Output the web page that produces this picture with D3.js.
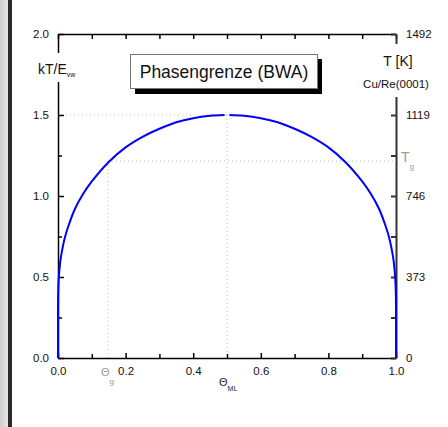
<!DOCTYPE html>
<html>
<head>
<meta charset="utf-8">
<script src="https://cdn.jsdelivr.net/npm/d3@7"></script>
<style>
  body { margin: 0; background: #fff; }
  svg { display: block; font-family: "Liberation Sans", Arial, sans-serif; }
</style>
</head>
<body>
<svg id="chart" width="448" height="427"></svg>
<script>
// ---- data ----
// phase boundary, left branch (coverage, kT/E_vw)
const thetaLeft = [0, 0, 0, 0.0005, 0.0025, 0.007, 0.01, 0.02, 0.03, 0.05, 0.075, 0.1, 0.15, 0.2, 0.25, 0.3, 0.35, 0.4, 0.45, 0.493];
const kTLeft    = [0, 0.2, 0.3, 0.4, 0.5, 0.6, 0.64, 0.74, 0.81, 0.92, 1.015, 1.09, 1.21, 1.30, 1.365, 1.415, 1.455, 1.48, 1.495, 1.5];
// right branch
const thetaRight = [0.507, 0.55, 0.6, 0.65, 0.7, 0.75, 0.8, 0.85, 0.9, 0.925, 0.95, 0.97, 0.98, 0.99, 0.993, 0.9975, 0.9995, 1, 1, 1];
const kTRight    = [1.5, 1.495, 1.48, 1.455, 1.415, 1.365, 1.30, 1.21, 1.09, 1.015, 0.92, 0.81, 0.74, 0.64, 0.6, 0.5, 0.4, 0.3, 0.2, 0];

const xMajor = [0, 0.2, 0.4, 0.6, 0.8, 1.0];
const xMinor = [0.1, 0.3, 0.5, 0.7, 0.9];
const yMajor = [0, 0.5, 1.0, 1.5, 2.0];
const yMinor = [0.25, 0.75, 1.25, 1.75];
const tMajor = [0, 373, 746, 1119, 1492];
const tMinor = [186.5, 559.5, 932.5, 1305.5];

const thetaML = 0.5, kTc = 1.5;     // critical point
const thetaG = 0.148, kTg = 1.216;  // marked point (Theta_g, T_g)

// ---- layout ----
const svg = d3.select('#chart');
const x  = d3.scaleLinear().domain([0, 1]).range([58, 396]);
const y  = d3.scaleLinear().domain([0, 2]).range([358, 34]);
const yT = d3.scaleLinear().domain([0, 1492]).range([358, 34]);

// left decoration strip
const defs = svg.append('defs');
const grad = defs.append('linearGradient').attr('id', 'strip').attr('x1', 0).attr('x2', 1);
grad.append('stop').attr('offset', 0).attr('stop-color', '#cdcdcd');
grad.append('stop').attr('offset', 1).attr('stop-color', '#e6e6e6');
svg.append('rect').attr('x', 0).attr('y', 0).attr('width', 8).attr('height', 427).attr('fill', 'url(#strip)');
svg.append('rect').attr('x', 8).attr('y', 0).attr('width', 4).attr('height', 427).attr('fill', '#2b2b2b');

// dotted guide lines
const guides = svg.append('g').attr('stroke', '#bbb').attr('stroke-width', 1)
  .attr('stroke-dasharray', '1,3').attr('fill', 'none');
guides.append('line').attr('x1', x(0)).attr('x2', x(thetaML)).attr('y1', y(kTc)).attr('y2', y(kTc));
guides.append('line').attr('x1', x(thetaML)).attr('x2', x(thetaML)).attr('y1', y(kTc)).attr('y2', y(0));
guides.append('line').attr('x1', x(thetaG)).attr('x2', x(1)).attr('y1', y(kTg)).attr('y2', y(kTg));
guides.append('line').attr('x1', x(thetaG)).attr('x2', x(thetaG)).attr('y1', y(kTg)).attr('y2', y(0));

// axes
function styleAxis(g, color, width) {
  g.select('.domain').attr('stroke', color).attr('stroke-width', width);
  g.selectAll('.tick line').attr('stroke', color).attr('stroke-width', width);
  g.selectAll('text').attr('fill', '#111').attr('font-size', 11.5)
    .attr('font-family', '"Liberation Sans", Arial, sans-serif');
}

svg.append('g').attr('transform', `translate(0,${y(0)})`)
  .call(d3.axisBottom(x).tickValues(xMajor).tickSize(-5).tickSizeOuter(0).tickPadding(9).tickFormat(d3.format('.1f')))
  .call(g => styleAxis(g, '#000', 1.5));
svg.append('g').attr('transform', `translate(0,${y(0)})`)
  .call(d3.axisBottom(x).tickValues(xMinor).tickSize(-4).tickSizeOuter(0).tickFormat(''))
  .call(g => { g.select('.domain').remove(); styleAxis(g, '#000', 1.5); });

svg.append('g').attr('transform', `translate(0,${y(2)})`)
  .call(d3.axisTop(x).tickValues(xMajor.concat(xMinor)).tickSize(-5).tickSizeOuter(0).tickFormat(''))
  .call(g => styleAxis(g, '#000', 1.5));

svg.append('g').attr('transform', `translate(${x(0)},0)`)
  .call(d3.axisLeft(y).tickValues(yMajor).tickSize(-6).tickSizeOuter(0).tickPadding(9).tickFormat(d3.format('.1f')))
  .call(g => styleAxis(g, '#000', 1.5));
svg.append('g').attr('transform', `translate(${x(0)},0)`)
  .call(d3.axisLeft(y).tickValues(yMinor).tickSize(-4).tickSizeOuter(0).tickFormat(''))
  .call(g => { g.select('.domain').remove(); styleAxis(g, '#000', 1.5); });

svg.append('g').attr('transform', `translate(${x(1)},0)`)
  .call(d3.axisRight(yT).tickValues(tMajor.concat(tMinor)).tickSize(-5).tickSizeOuter(0).tickPadding(10)
    .tickFormat(d => tMajor.includes(d) ? d : ''))
  .call(g => styleAxis(g, '#333', 2));

// axis titles (white backing breaks the axis line)
svg.append('rect').attr('x', 34).attr('y', 53).attr('width', 50).attr('height', 29).attr('fill', '#fff');
const yTitle = svg.append('text').attr('x', 38).attr('y', 74).attr('font-size', 14).attr('fill', '#111');
yTitle.append('tspan').text('kT/E');
yTitle.append('tspan').attr('font-size', 7).attr('dy', 3).text('vw');

svg.append('rect').attr('x', 356).attr('y', 44).attr('width', 84).attr('height', 53).attr('fill', '#fff');
svg.append('text').attr('x', 398).attr('y', 66).attr('text-anchor', 'middle')
  .attr('font-size', 14).attr('fill', '#111').text('T [K]');
svg.append('text').attr('x', 396).attr('y', 88).attr('text-anchor', 'middle')
  .attr('font-size', 11.5).attr('fill', '#111').text('Cu/Re(0001)');

// marker labels
const tg = svg.append('text').attr('x', 401).attr('y', 162).attr('font-size', 14).attr('fill', '#999');
tg.append('tspan').text('T');
tg.append('tspan').attr('font-size', 8).attr('dy', 7).text('g');

const thg = svg.append('text').attr('x', 101).attr('y', 376).attr('font-size', 11).attr('fill', '#999');
thg.append('tspan').text('Θ');
thg.append('tspan').attr('font-size', 8).attr('dy', 8).text('g');

const thml = svg.append('text').attr('x', 219).attr('y', 386).attr('font-size', 11).attr('fill', '#222');
thml.append('tspan').text('Θ');
thml.append('tspan').attr('font-size', 7).attr('dy', 5).text('ML');

// phase boundary
const line = d3.line()
  .x(d => x(d[0])).y(d => y(d[1]))
  .curve(d3.curveCatmullRom.alpha(0.5));
const curves = svg.append('g').attr('fill', 'none').attr('stroke', '#0000ff').attr('stroke-width', 2);
curves.append('path').attr('d', line(d3.zip(thetaLeft, kTLeft)));
curves.append('path').attr('d', line(d3.zip(thetaRight, kTRight)));

// legend box with shadow
svg.append('rect').attr('x', 135).attr('y', 59).attr('width', 187).attr('height', 35).attr('fill', '#000');
svg.append('rect').attr('x', 130.5).attr('y', 54.5).attr('width', 187).attr('height', 34)
  .attr('fill', '#fff').attr('stroke', '#777').attr('stroke-width', 1);
svg.append('text').attr('x', 224).attr('y', 77.5).attr('text-anchor', 'middle')
  .attr('font-size', 17.5).attr('fill', '#111').text('Phasengrenze (BWA)');
</script>
</body>
</html>
